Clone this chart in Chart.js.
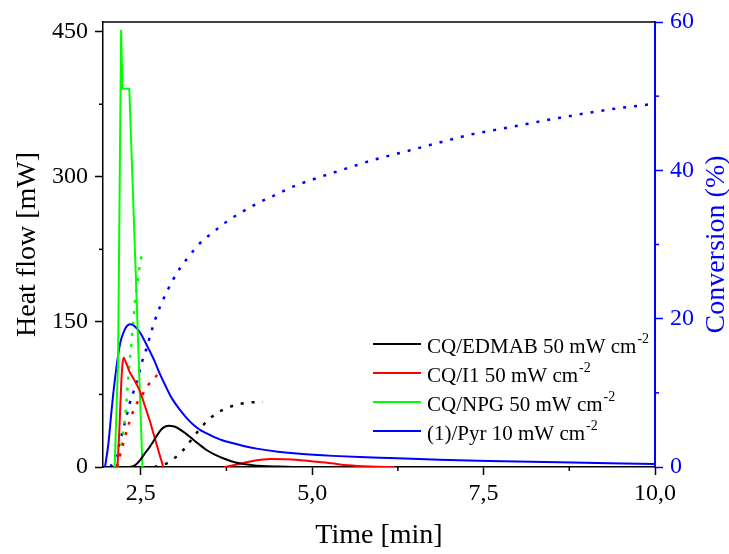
<!DOCTYPE html>
<html>
<head>
<meta charset="utf-8">
<script src="https://cdn.jsdelivr.net/npm/chart.js"></script>
<style>
  body { margin: 0; background: #fff; }
</style>
</head>
<body>
<canvas id="myChart" width="729" height="554"></canvas>
<script>
// legend text, '^' marks the superscript part
var seriesLabels = ['CQ/EDMAB 50 mW cm^-2', 'CQ/I1 50 mW cm^-2', 'CQ/NPG 50 mW cm^-2', '(1)/Pyr 10 mW cm^-2'];
var seriesColors = ['#000000', '#ff0000', '#00ff00', '#0000ff'];

// major tick values
var timeTicks = [2.5, 5, 7.5, 10];
var heatTicks = [0, 150, 300, 450];
var convTicks = [0, 20, 40, 60];

// heat flow [mW] vs time [min]
var edmabTime = [2.30, 2.38, 2.44, 2.49, 2.56, 2.635, 2.68, 2.78, 2.825, 2.91, 2.99, 3.07, 3.15, 3.22, 3.34, 3.46, 3.58, 3.70, 3.82, 3.94, 4.10, 4.28, 4.50, 4.70];
var edmabHeat = [0, 0.5, 3, 7, 14, 21, 26, 37, 40.5, 42.7, 41.8, 39, 35, 31, 24, 17.6, 12.8, 9, 6, 3.8, 2.2, 1, 0.4, 0];

var i1Time = [2.16, 2.19, 2.215, 2.235, 2.25, 2.29, 2.34, 2.39, 2.436, 2.49, 2.534, 2.58, 2.631, 2.68, 2.727, 2.77, 2.80, 2.83, 3.3, 3.72, 3.90, 4.08, 4.25, 4.40, 4.60, 4.80, 5.05, 5.28, 5.52, 5.85, 6.20];
var i1Heat = [0, 40, 85, 107, 113, 107, 98, 92, 86, 78, 69, 59, 48, 36, 24.5, 14, 7, 0, null, 0, 2.5, 5.5, 7.5, 8.3, 8, 7.2, 5.5, 3.8, 1.7, 0.4, 0];

var npgTime = [2.12, 2.17, 2.214, 2.233, 2.334, 2.525];
var npgHeat = [0, 110, 452, 391, 391, 0];

var pyrTime = [1.98, 2.03, 2.07, 2.10, 2.15, 2.20, 2.26, 2.31, 2.355, 2.42, 2.49, 2.56, 2.63, 2.694, 2.781, 2.854, 2.927, 3.0, 3.073, 3.146, 3.219, 3.29, 3.364, 3.44, 3.51, 3.68, 3.85, 4.0, 4.19, 4.5, 4.82, 5.3, 5.79, 6.13, 6.86, 7.58, 8.60, 10.0];
var pyrHeat = [0, 25, 55, 76, 105, 128, 141, 146.5, 147.6, 145, 139, 130, 120, 110.7, 96, 85, 74.5, 66, 59, 52.5, 46.9, 42.3, 38.3, 35.5, 33.1, 27.9, 24.5, 21.8, 19.0, 15.8, 13.6, 11.5, 10, 9.3, 7.5, 6.3, 4.8, 3.1];

// conversion [%] vs time [min]
var edmabConvTime = [2.70, 2.79, 2.88, 2.95, 3.02, 3.08, 3.14, 3.25, 3.36, 3.48, 3.60, 3.77, 3.94, 4.10, 4.28];
var edmabConv = [0, 0.2, 0.5, 0.9, 1.4, 1.9, 2.5, 3.8, 5.1, 6.3, 7.2, 8.0, 8.5, 8.7, 8.8];

var i1ConvTime = [2.15, 2.20, 2.25, 2.31, 2.37, 2.44, 2.534, 2.606, 2.74];
var i1Conv = [0, 1.6, 3.3, 5.3, 7.0, 8.5, 9.9, 11.0, 12.4];

var npgConvTime = [2.16, 2.194, 2.227, 2.252, 2.276, 2.30, 2.33, 2.36, 2.384, 2.403, 2.417, 2.442, 2.465, 2.49, 2.523];
var npgConv = [0, 1.8, 3.4, 5.2, 7.0, 9.8, 13.2, 16.3, 18.9, 20.8, 22.4, 24.1, 25.8, 27.4, 29.2];

var pyrConvTime = [2.06, 2.12, 2.17, 2.21, 2.24, 2.28, 2.33, 2.39, 2.436, 2.475, 2.52, 2.577, 2.635, 2.683, 2.747, 2.814, 2.901, 2.974, 3.072, 3.169, 3.29, 3.41, 3.55, 3.68, 3.82, 3.96, 4.11, 4.28, 4.42, 4.58, 4.72, 5.02, 5.48, 5.93, 6.43, 7.04, 7.35, 7.82, 8.62, 9.41, 9.93];
var pyrConv = [0, 1.2, 2.5, 3.8, 5.0, 6.3, 8.3, 10.0, 11.3, 12.6, 14.2, 15.8, 17.6, 19.1, 20.8, 22.3, 24.0, 25.3, 26.8, 28.0, 29.4, 30.6, 31.6, 32.6, 33.5, 34.3, 35.1, 35.9, 36.5, 37.2, 37.8, 38.8, 40.2, 41.5, 42.7, 44.2, 44.9, 45.7, 47.1, 48.3, 48.9];

var serif = 'Liberation Serif';
var blue = '#0000ff';

function pts(xs, ys) {
    return xs.map(function (x, i) { return { x: x, y: ys[i] }; });
}

function solid(i, xs, ys, sharp) {
    return {
        label: seriesLabels[i],
        data: pts(xs, ys),
        yAxisID: 'y',
        borderColor: seriesColors[i],
        borderWidth: 2,
        cubicInterpolationMode: sharp ? 'default' : 'monotone',
        tension: 0,
        spanGaps: false
    };
}

function dotted(i, xs, ys) {
    return {
        label: seriesLabels[i] + ' conversion',
        data: pts(xs, ys),
        yAxisID: 'y2',
        borderColor: seriesColors[i],
        borderWidth: 2.5,
        borderDash: [3, 8],
        cubicInterpolationMode: 'monotone'
    };
}

var datasets = [
    solid(0, edmabTime, edmabHeat),
    solid(1, i1Time, i1Heat),
    solid(2, npgTime, npgHeat, true),
    solid(3, pyrTime, pyrHeat),
    dotted(0, edmabConvTime, edmabConv),
    dotted(1, i1ConvTime, i1Conv),
    dotted(2, npgConvTime, npgConv),
    dotted(3, pyrConvTime, pyrConv)
];

function fixTicks(values) {
    return function (scale) {
        scale.ticks = values.map(function (v) { return { value: v }; });
    };
}

// top frame, minor ticks, right axis title and the legend
var extras = {
    id: 'extras',
    afterDraw: function (chart) {
        var ctx = chart.ctx;
        var a = chart.chartArea;
        ctx.save();
        ctx.strokeStyle = '#000';
        ctx.lineWidth = 1.5;
        ctx.beginPath();
        ctx.moveTo(a.left, a.top);
        ctx.lineTo(a.right, a.top);
        ctx.stroke();

        ['x', 'y', 'y2'].forEach(function (id) {
            var s = chart.scales[id];
            var t = s.ticks;
            ctx.strokeStyle = s.options.border.color;
            ctx.lineWidth = 1.5;
            for (var i = 0; i < t.length - 1; i++) {
                var p = s.getPixelForValue((t[i].value + t[i + 1].value) / 2);
                ctx.beginPath();
                if (id === 'x') { ctx.moveTo(p, a.bottom); ctx.lineTo(p, a.bottom + 4); }
                else if (id === 'y') { ctx.moveTo(a.left, p); ctx.lineTo(a.left - 4, p); }
                else { ctx.moveTo(a.right, p); ctx.lineTo(a.right + 4, p); }
                ctx.stroke();
            }
        });

        ctx.save();
        ctx.translate(717, (a.top + a.bottom) / 2);
        ctx.rotate(-Math.PI / 2);
        ctx.fillStyle = blue;
        ctx.font = '28px "' + serif + '"';
        ctx.textAlign = 'center';
        ctx.textBaseline = 'middle';
        ctx.fillText('Conversion (%)', 0, 0);
        ctx.restore();

        // legend
        var y0 = 344, dy = 29;
        for (var k = 0; k < 4; k++) {
            var ds = chart.data.datasets[k];
            var y = y0 + k * dy;
            ctx.strokeStyle = ds.borderColor;
            ctx.lineWidth = 2;
            ctx.beginPath();
            ctx.moveTo(373, y);
            ctx.lineTo(421, y);
            ctx.stroke();
            var parts = ds.label.split('^');
            ctx.fillStyle = '#000';
            ctx.textAlign = 'left';
            ctx.textBaseline = 'alphabetic';
            ctx.font = '21px "' + serif + '"';
            ctx.fillText(parts[0], 427, y + 9);
            var w = ctx.measureText(parts[0]).width;
            ctx.font = '14px "' + serif + '"';
            ctx.fillText(parts[1], 427 + w + 1, y - 1);
        }
        ctx.restore();
    }
};

var tickFont = { family: serif, size: 24 };
var titleFont = { family: serif, size: 28 };

var ctx = document.getElementById('myChart');
var myChart = new Chart(ctx, {
    type: 'line',
    data: { datasets: datasets },
    options: {
        responsive: false,
        animation: false,
        layout: { padding: { top: 22, left: 0, right: 0, bottom: 0 } },
        elements: { point: { radius: 0 } },
        plugins: { legend: { display: false }, tooltip: { enabled: false } },
        scales: {
            x: {
                type: 'linear',
                position: 'bottom',
                min: 1.95,
                max: 10,
                afterBuildTicks: fixTicks(timeTicks),
                ticks: {
                    maxRotation: 0,
                    color: '#000',
                    font: tickFont,
                    padding: 4,
                    callback: function (v) { return v.toFixed(1).replace('.', ','); }
                },
                grid: { drawOnChartArea: false, tickLength: 8, tickColor: '#000', tickWidth: 1.5 },
                border: { color: '#000', width: 1.5 },
                title: { display: true, text: 'Time [min]', color: '#000', font: titleFont, padding: { top: 0, bottom: 2 } },
                afterFit: function (s) { s.height = 87; }
            },
            y: {
                type: 'linear',
                position: 'left',
                min: 0,
                max: 460,
                afterBuildTicks: fixTicks(heatTicks),
                ticks: { color: '#000', font: tickFont, padding: 7 },
                grid: { drawOnChartArea: false, tickLength: 8, tickColor: '#000', tickWidth: 1.5 },
                border: { color: '#000', width: 1.5 },
                title: { display: true, text: 'Heat flow [mW]', color: '#000', font: titleFont, padding: { top: 11, bottom: 0 } },
                afterFit: function (s) { s.width = 103; }
            },
            y2: {
                type: 'linear',
                position: 'right',
                min: 0,
                max: 60,
                afterBuildTicks: fixTicks(convTicks),
                ticks: { color: blue, font: tickFont, padding: 7 },
                grid: { drawOnChartArea: false, tickLength: 8, tickColor: blue, tickWidth: 1.5 },
                border: { color: blue, width: 2 },
                afterFit: function (s) { s.width = 74; }
            }
        }
    },
    plugins: [extras]
});
</script>
</body>
</html>
